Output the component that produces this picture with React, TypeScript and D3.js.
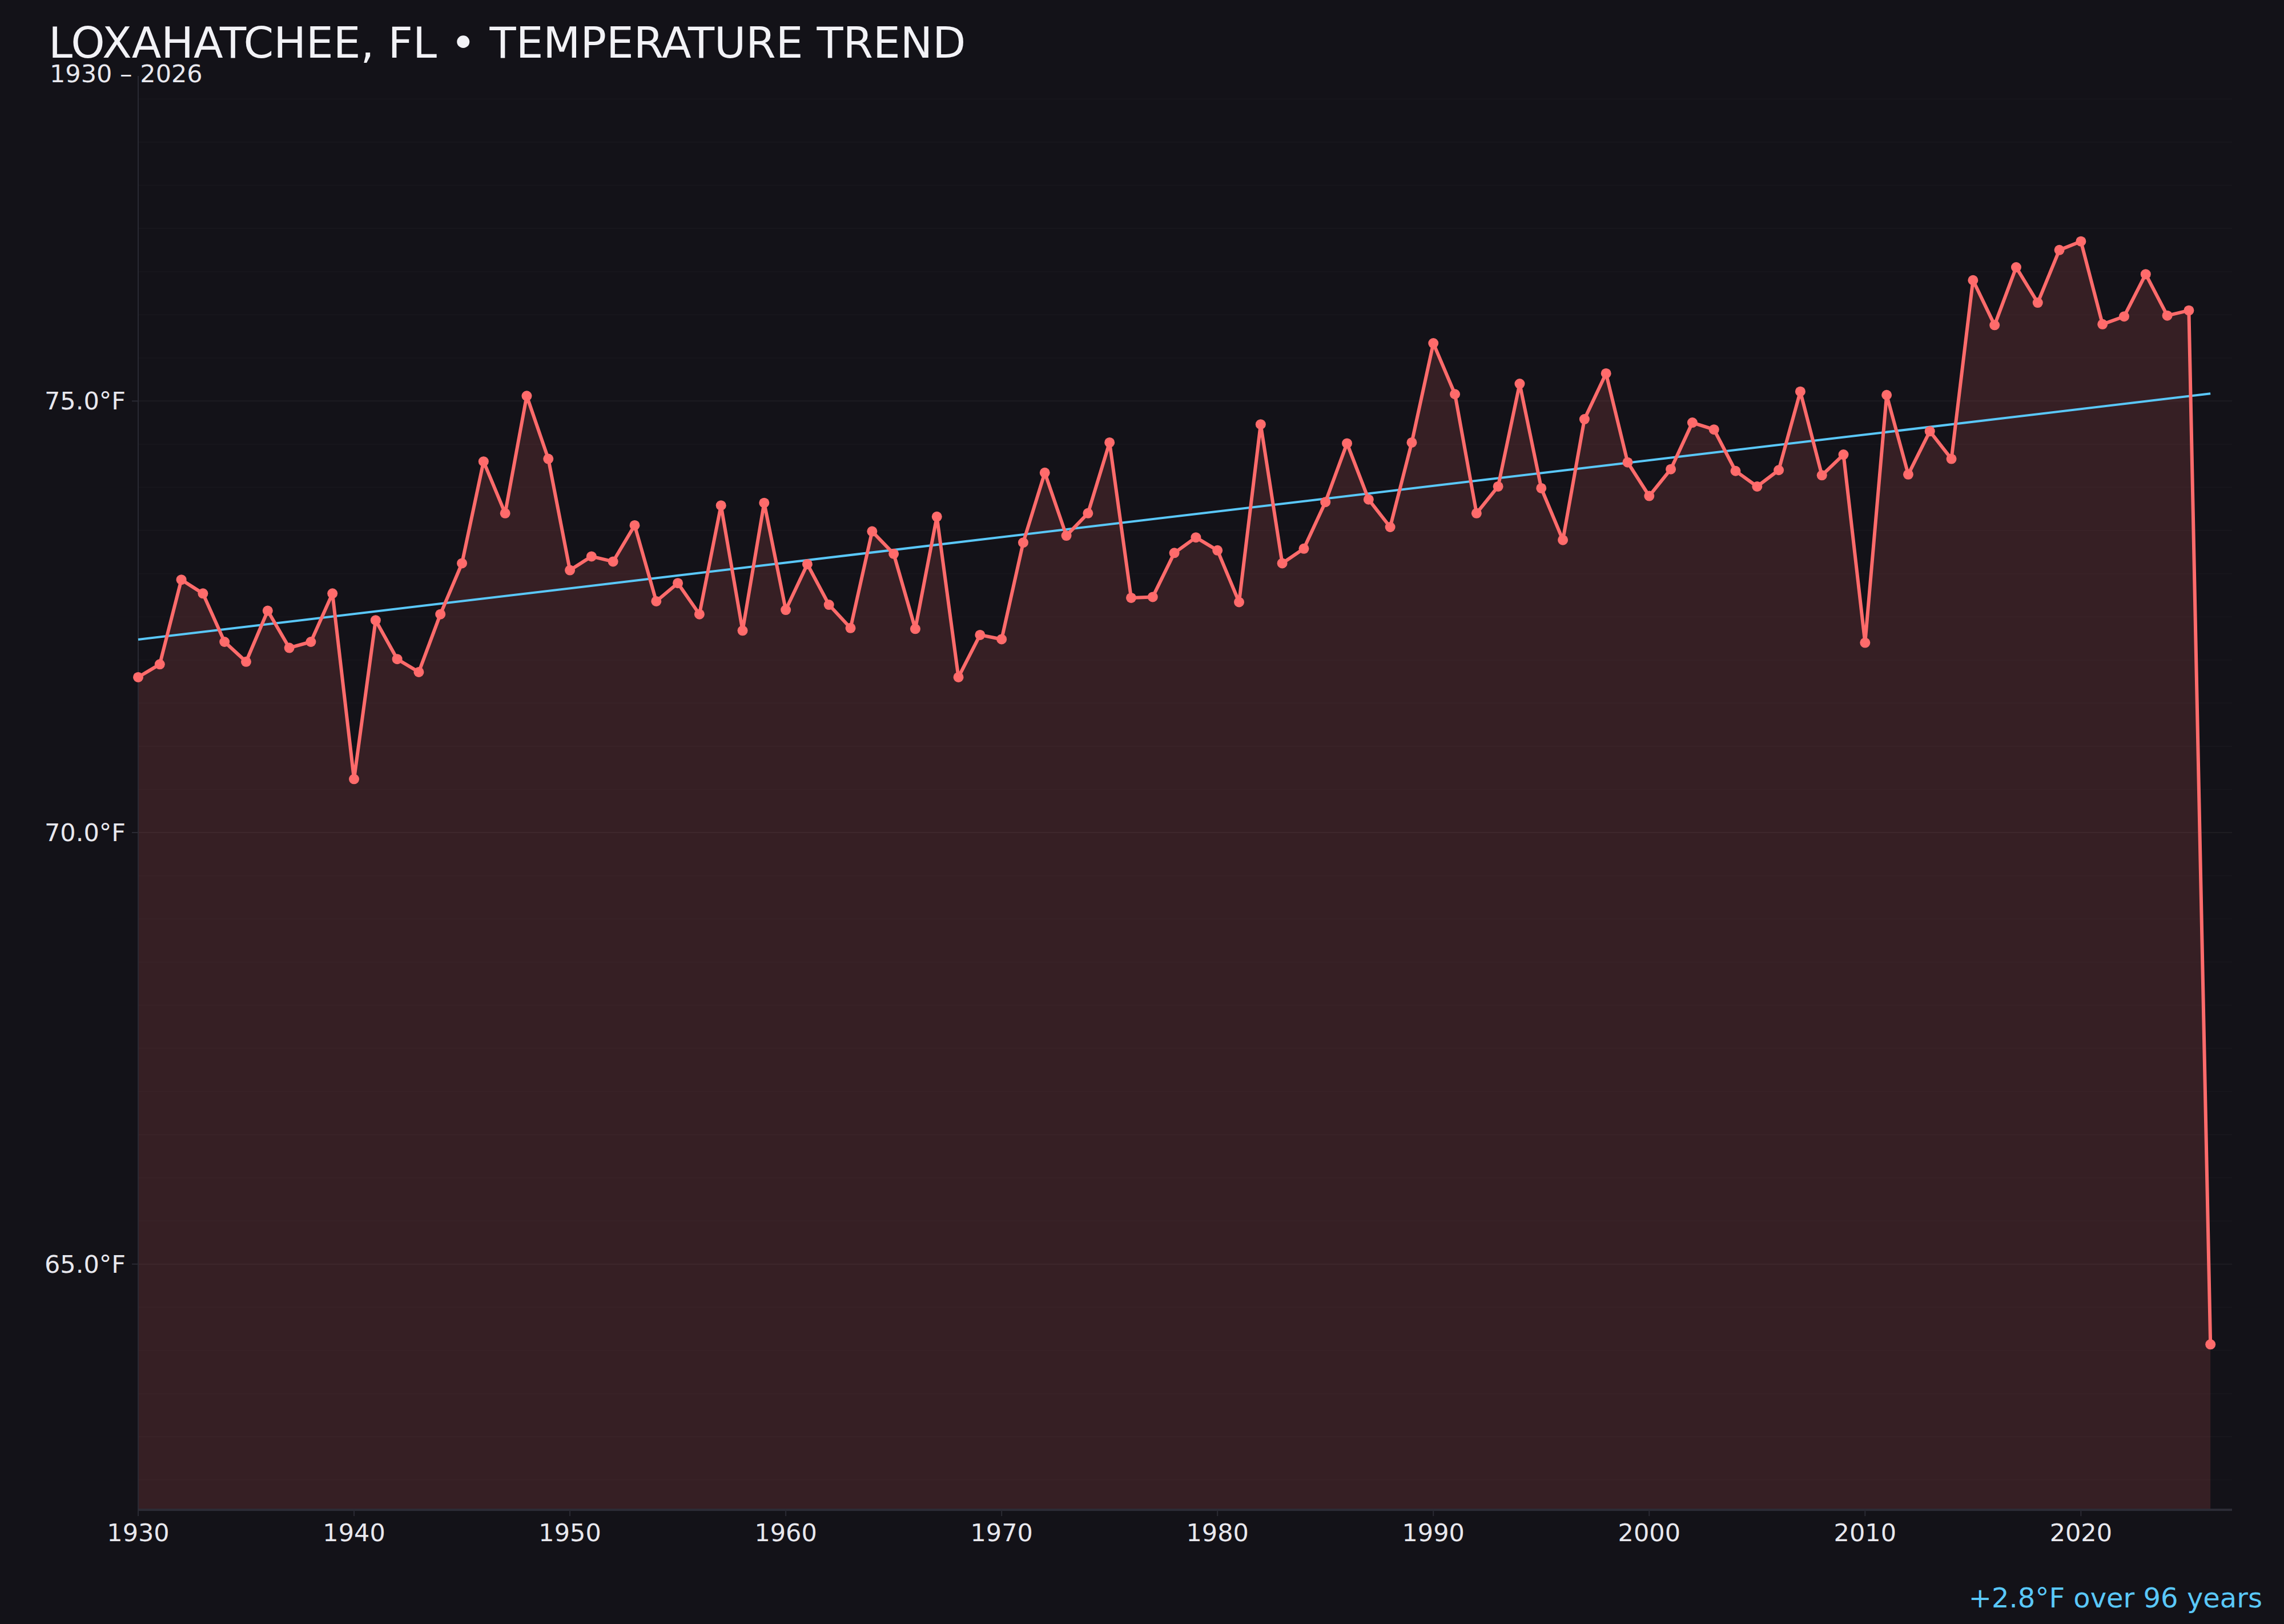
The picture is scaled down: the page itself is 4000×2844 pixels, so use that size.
import React from "react";
import * as d3 from "d3";

const startYear = 1930;
const temps: number[] = [
  71.80, 71.95, 72.93, 72.77, 72.21, 71.98, 72.57, 72.14, 72.21, 72.77,
  70.62, 72.46, 72.01, 71.86, 72.53, 73.12, 74.30, 73.70, 75.06, 74.33,
  73.04, 73.20, 73.14, 73.56, 72.68, 72.89, 72.53, 73.79, 72.34, 73.82,
  72.58, 73.11, 72.64, 72.37, 73.49, 73.23, 72.36, 73.66, 71.80, 72.29,
  72.24, 73.36, 74.17, 73.44, 73.70, 74.52, 72.72, 72.73, 73.24, 73.42,
  73.27, 72.67, 74.73, 73.12, 73.29, 73.83, 74.51, 73.86, 73.54, 74.52,
  75.67, 75.08, 73.70, 74.01, 75.20, 73.99, 73.39, 74.79, 75.32, 74.29,
  73.90, 74.21, 74.75, 74.67, 74.19, 74.01, 74.20, 75.11, 74.14, 74.38,
  72.20, 75.07, 74.15, 74.65, 74.33, 76.40, 75.88, 76.55, 76.14, 76.75,
  76.85, 75.89, 75.98, 76.47, 75.99, 76.05, 64.07,
];
const years: number[] = temps.map((_, i) => startYear + i);
const xTicks: number[] = [1930, 1940, 1950, 1960, 1970, 1980, 1990, 2000, 2010, 2020];
const yTicks: number[] = [65, 70, 75];
const titleText = "LOXAHATCHEE, FL • TEMPERATURE TREND";
const subtitleText = "1930 – 2026";

const W = 4000;
const H = 2844;
const M = { left: 242, right: 91, top: 133, bottom: 200 };
const FONT = "'DejaVu Sans', sans-serif";

export default function App() {
  const data = years.map((y, i) => ({ year: y, t: temps[i] }));
  const lo = d3.min(temps)!;
  const hi = d3.max(temps)!;
  const pad = (hi - lo) * 0.15;
  const x = d3.scaleLinear().domain([1930, 2027]).range([M.left, W - M.right]);
  const y = d3.scaleLinear().domain([lo - pad, hi + pad]).range([H - M.bottom, M.top]);

  // linear regression
  const n = data.length;
  const mx = d3.mean(years)!;
  const my = d3.mean(temps)!;
  let sxy = 0, sxx = 0;
  data.forEach((d) => { sxy += (d.year - mx) * (d.t - my); sxx += (d.year - mx) ** 2; });
  const slope = sxy / sxx;
  const icpt = my - slope * mx;
  const y0 = years[0], y1 = years[n - 1];
  const change = slope * (y1 - y0);

  const line = d3.line<{ year: number; t: number }>().x((d) => x(d.year)).y((d) => y(d.t));
  const area = d3.area<{ year: number; t: number }>().x((d) => x(d.year)).y0(y(lo - pad)).y1((d) => y(d.t));

  const [d0, d1] = y.domain();
  const minor: number[] = [];
  for (let v = Math.ceil(d0 * 2) / 2; v <= d1; v += 0.5) minor.push(v);

  return (
    <svg width={W} height={H} style={{ position: "absolute", left: 0, top: 0, background: "#131218" }} fontFamily={FONT}>
      <rect x={0} y={0} width={W} height={H} fill="#131218" />
      {minor.map((v) => {
        const major = yTicks.includes(v);
        return (
          <line key={"g" + v} x1={M.left} x2={W - M.right} y1={y(v)} y2={y(v)}
            stroke="#ffffff" strokeOpacity={major ? 0.045 : 0.018} strokeWidth={2} />
        );
      })}
      <path d={area(data)!} fill="#ff6b6b" fillOpacity={0.15} />
      <line x1={M.left} x2={M.left} y1={M.top} y2={H - M.bottom} stroke="#2a2a33" strokeWidth={2} />
      <line x1={M.left} x2={W - M.right} y1={H - M.bottom} y2={H - M.bottom} stroke="#2c2c36" strokeWidth={4} />
      {yTicks.map((v) => (
        <g key={"yt" + v}>
          <line x1={M.left - 11} x2={M.left} y1={y(v)} y2={y(v)} stroke="#2a2a33" strokeWidth={2} />
          <text x={M.left - 22} y={y(v)} dy="0.35em" textAnchor="end" fontSize={43} fill="#e8e8ee">
            {v.toFixed(1) + "°F"}
          </text>
        </g>
      ))}
      {xTicks.map((v) => (
        <g key={"xt" + v}>
          <line x1={x(v)} x2={x(v)} y1={H - M.bottom} y2={H - M.bottom + 11} stroke="#2a2a33" strokeWidth={2} />
          <text x={x(v)} y={2699} textAnchor="middle" fontSize={43} fill="#e8e8ee">{v}</text>
        </g>
      ))}
      <line x1={x(y0)} x2={x(y1)} y1={y(icpt + slope * y0)} y2={y(icpt + slope * y1)} stroke="#5ac8fa" strokeWidth={4} />
      <path d={line(data)!} fill="none" stroke="#ff6b6b" strokeWidth={6} strokeLinejoin="round" />
      {data.map((d) => (
        <circle key={d.year} cx={x(d.year)} cy={y(d.t)} r={9} fill="#ff6b6b" />
      ))}
      <text x={85} y={101} fontSize={75.5} fill="#f2f2f6">{titleText}</text>
      <text x={87} y={144} fontSize={43} fill="#e8e8ee">{subtitleText}</text>
      <text x={3962} y={2815} textAnchor="end" fontSize={48} fill="#5ac8fa">
        {(change >= 0 ? "+" : "") + change.toFixed(1) + "°F over " + (y1 - y0) + " years"}
      </text>
    </svg>
  );
}
